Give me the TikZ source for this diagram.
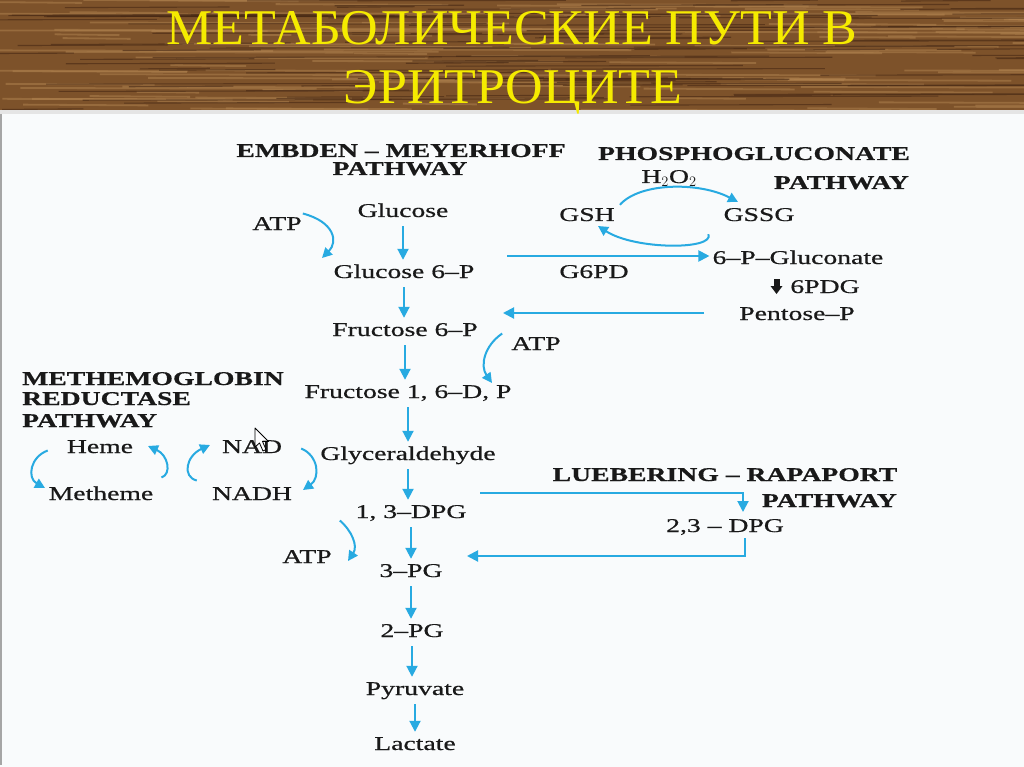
\documentclass[tikz,border=0pt]{standalone}
\usepackage{fontspec}
\setmainfont{Liberation Serif}
\newfontfamily\bodyf[FakeStretch=1.42,FakeBold=0.6]{Liberation Serif}
\newfontfamily\titlef[FakeStretch=1.04]{Liberation Serif}
\usetikzlibrary{arrows.meta}
\definecolor{arrc}{RGB}{40,170,225}
\definecolor{txtc}{RGB}{25,25,25}
\definecolor{wood}{RGB}{125,82,42}
\definecolor{woodlight}{RGB}{178,132,80}
\definecolor{wooddark}{RGB}{70,40,20}
\definecolor{ttl}{RGB}{245,235,0}
\definecolor{slide}{RGB}{249,251,252}
\begin{document}
\begin{tikzpicture}[x=1pt,y=-1pt,
  lbl/.style={font=\bodyf\fontsize{19.5}{22}\selectfont, text=txtc, inner xsep=3pt, inner ysep=5pt, text height=13pt, text depth=4pt, anchor=base},
  hd/.style={lbl, font=\bodyf\bfseries\fontsize{19.5}{22}\selectfont},
  ttlst/.style={font=\titlef\fontsize{50}{56}\selectfont, text=ttl, anchor=base, inner sep=0pt},
  arr/.style={draw=arrc, line width=2pt, -{Triangle[width=11pt,length=11pt]}},
  carr/.style={draw=arrc, line width=2pt, -{Triangle[width=10pt,length=10pt]}}]
\useasboundingbox (0,0) rectangle (1024,767);
% background
\fill[slide] (0,0) rectangle (1024,767);
\fill[wood] (0,0) rectangle (1024,110);
\begin{scope}
\clip (0,0) rectangle (1024,110);
\pgfmathsetseed{7}
\foreach \i in {1,...,110}{
  \pgfmathsetmacro\yy{rnd*110}
  \pgfmathsetmacro\xx{rnd*1100-60}
  \pgfmathsetmacro\ll{60+rnd*260}
  \draw[woodlight, line width=1.8pt, opacity=0.5] (\xx,\yy) -- ++(\ll,0.8);
}
\foreach \i in {1,...,110}{
  \pgfmathsetmacro\yy{rnd*110}
  \pgfmathsetmacro\xx{rnd*1100-60}
  \pgfmathsetmacro\ll{60+rnd*300}
  \draw[wooddark, line width=1.1pt, opacity=0.6] (\xx,\yy) -- ++(\ll,-0.6);
}
\end{scope}
\fill[gray!20] (0,110) rectangle (1024,114);
\draw[gray!70, line width=1.5pt] (1,114) -- (1,765);
% title
\node[ttlst] (t1) at (512,45) {МЕТАБОЛИЧЕСКИЕ ПУТИ В};
\node[ttlst] (t2) at (513,104) {ЭРИТРОЦИТЕ};
% headings
\node[hd] (emh1) at (401,157) {EMBDEN – MEYERHOFF};
\node[hd] (emh2) at (400,175) {PATHWAY};
\node[hd] (pgh1) at (754,160) {PHOSPHOGLUCONATE};
\node[hd, anchor=base east] (pgh2) at (912,189) {PATHWAY};
\node[hd, anchor=base west] (mh1) at (19,385) {METHEMOGLOBIN};
\node[hd, anchor=base west] (mh2) at (19,405) {REDUCTASE};
\node[hd, anchor=base west] (mh3) at (19,427) {PATHWAY};
\node[hd] (lrh1) at (725,481) {LUEBERING – RAPAPORT};
\node[hd, anchor=base east] (lrh2) at (900,507) {PATHWAY};
% main pathway
\node[lbl] (glu) at (403,217) {Glucose};
\node[lbl] (g6p) at (404,278) {Glucose 6–P};
\node[lbl] (f6p) at (405,336) {Fructose 6–P};
\node[lbl] (f16) at (408,398) {Fructose 1, 6–D, P};
\node[lbl] (gly) at (408,460) {Glyceraldehyde};
\node[lbl] (dpg13) at (411,518) {1, 3–DPG};
\node[lbl] (pg3) at (411,577) {3–PG};
\node[lbl] (pg2) at (412,637) {2–PG};
\node[lbl] (pyr) at (415,695) {Pyruvate};
\node[lbl] (lac) at (415,750) {Lactate};
\node[lbl] (atp1) at (277,230) {ATP};
\node[lbl] (atp2) at (536,350) {ATP};
\node[lbl] (atp3) at (307,563) {ATP};
% phosphogluconate
\node[lbl] (h2o2) at (669,183) {H$_2$O$_2$};
\node[lbl] (gsh) at (587,221) {GSH};
\node[lbl] (gssg) at (759,221) {GSSG};
\node[lbl] (gluc) at (798,264) {6–P–Gluconate};
\node[lbl] (g6pd) at (594,278) {G6PD};
\node[lbl] (pdg) at (825,293) {6PDG};
\node[lbl] (pent) at (797,320) {Pentose–P};
% methemoglobin
\node[lbl] (heme) at (100,453) {Heme};
\node[lbl] (meth) at (101,500) {Metheme};
\node[lbl] (nad) at (252,453) {NAD};
\node[lbl] (nadh) at (252,500) {NADH};
% luebering
\node[lbl] (dpg23) at (725,532) {2,3 – DPG};
% coordinates
\coordinate (g6pdL) at (507,256);
\coordinate (pentR) at (704,313);
\coordinate (f6pR) at (503,313);
\coordinate (dpgR) at (480,493);
\coordinate (lrTop) at (743,512);
\coordinate (lrBot) at (745,538);
\coordinate (pg3R) at (467,556);
% straight arrows
\draw[arr] (glu.south) -- (glu.south |- g6p.north);
\draw[arr] (g6p.south) -- (g6p.south |- f6p.north);
\draw[arr] (f6p.south) -- (f6p.south |- f16.north);
\draw[arr] (f16.south) -- (f16.south |- gly.north);
\draw[arr] (gly.south) -- (gly.south |- dpg13.north);
\draw[arr] (dpg13.south) -- (dpg13.south |- pg3.north);
\draw[arr] (pg3.south) -- (pg3.south |- pg2.north);
\draw[arr] (pg2.south) -- (pg2.south |- pyr.north);
\draw[arr] (pyr.south) -- (pyr.south |- lac.north);
\draw[arr] (g6pdL) -- (g6pdL -| gluc.west);
\draw[arr] (pentR) -- (f6pR);
\draw[arr] (dpgR) -| (lrTop);
\draw[arr] (lrBot) |- (pg3R);
% curved arrows
\draw[carr] (atp1.east) ++(-2,-12) .. controls (335,222) and (338,242) .. (322,258);
\draw[carr] (atp2.west) ++(-6,-12) .. controls (484,346) and (480,366) .. (492,383);
\draw[carr] (atp3.east) ++(5,-38) .. controls (352,531) and (358,546) .. (348,561);
\draw[carr] (gsh.north east) ++(2,2) .. controls (640,182) and (700,182) .. (738,202);
\draw[carr] (gssg.south west) ++(-12,4) .. controls (715,250) and (635,250) .. (598,226);
\draw[carr] (heme.west) ++(-16,2) .. controls (30,457) and (27,478) .. (45,488);
\draw[carr] (meth.east) ++(5,-18) .. controls (172,474) and (168,455) .. (148,446);
\draw[carr] (nadh.west) ++(-12,-15) .. controls (182,477) and (186,456) .. (210,445);
\draw[carr] (nad.east) ++(16,0) .. controls (319,456) and (320,478) .. (303,490);
% black arrow for 6PDG
\fill[txtc] (773.5,279) rectangle (779.5,287);
\fill[txtc] (770.5,286) -- (782.5,286) -- (776.5,294) -- cycle;
% cursor
\draw[black, fill=white, fill opacity=0.7, line width=0.8pt, line join=round] (255,428) -- (255,447) -- (259.5,443) -- (263,451) -- (266,449.5) -- (262.5,441.5) -- (268.5,441.5) -- cycle;
\end{tikzpicture}
\end{document}
